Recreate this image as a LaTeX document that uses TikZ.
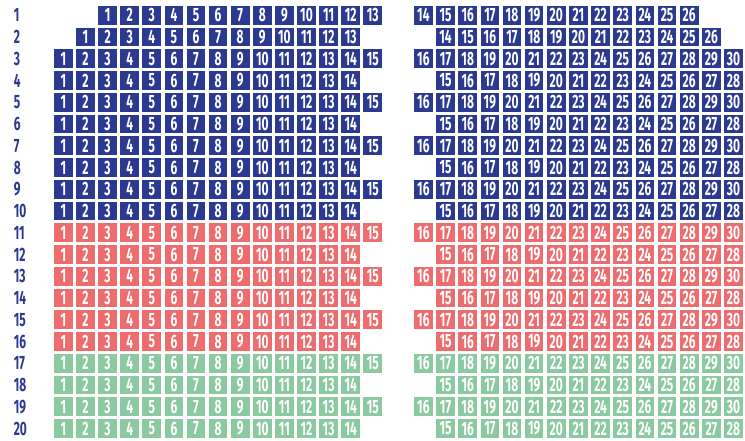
\documentclass[tikz,border=0pt]{standalone}
\usepackage{fontspec}
\setmainfont{Fira Sans}[FakeStretch=0.62]
\definecolor{seatblue}{HTML}{2B3990}
\definecolor{seatred}{HTML}{EE6B6E}
\definecolor{seatgreen}{HTML}{8BC9A0}
\tikzset{
  seat/.style={fill=#1, text=white, inner sep=0pt, minimum width=14pt, minimum height=13.9pt, font=\bfseries\fontsize{14.5}{14.5}\selectfont},
  rowlabel/.style={text=seatblue, inner sep=0pt, anchor=west, font=\bfseries\fontsize{14.5}{14.5}\selectfont}
}
\begin{document}
\begin{tikzpicture}[x=0.75pt, y=-0.75pt]
\useasboundingbox (0,0) rectangle (745,441);
\foreach \r in {1,...,20} {
  \pgfmathsetmacro\y{15.25+(\r-1)*21.75}
  % colour of the block
  \ifnum\r<11 \def\c{seatblue}\else\ifnum\r<17 \def\c{seatred}\else\def\c{seatgreen}\fi\fi
  % first column and seats of each side
  \ifnum\r=1 \def\la{2}\def\ln{13}\def\rf{14}\def\rl{26}\def\rc{0}
  \else\ifnum\r=2 \def\la{1}\def\ln{13}\def\rf{14}\def\rl{26}\def\rc{1}
  \else\ifodd\r \def\la{0}\def\ln{15}\def\rf{16}\def\rl{30}\def\rc{0}
  \else \def\la{0}\def\ln{14}\def\rf{15}\def\rl{28}\def\rc{1}\fi\fi\fi
  \node[rowlabel] (row-\r) at (13.5,\y) {\r};
  \foreach \s in {1,...,\ln} \node[seat=\c] (s-\r-\s) at ({63.4+(\s-1+\la)*22.1},\y) {\s};
  \foreach \s in {\rf,...,\rl} \node[seat=\c] (s-\r-\s) at ({423.4+(\s-\rf+\rc)*22.15},\y) {\s};
}
\end{tikzpicture}
\end{document}
